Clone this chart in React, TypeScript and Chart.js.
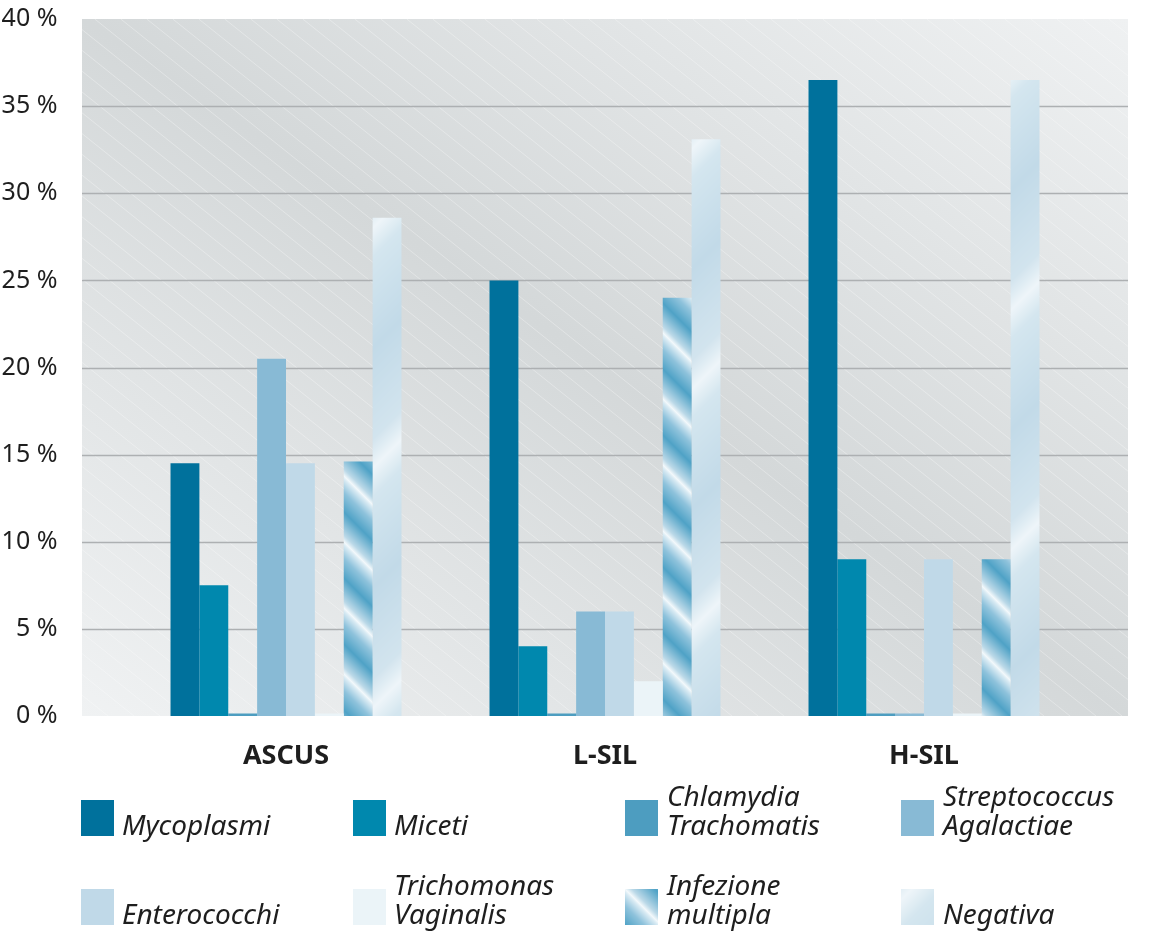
import React, { useEffect, useRef } from 'react';
import { Chart, registerables } from 'chart.js';
Chart.register(...registerables);

const categories = ['ASCUS', 'L-SIL', 'H-SIL'];
const mycoplasmi = [14.5, 25, 36.5];
const miceti = [7.5, 4, 9];
const chlamydia = [0.15, 0.15, 0.15];
const streptococcus = [20.5, 6, 0.15];
const enterococchi = [14.5, 6, 9];
const trichomonas = [0.15, 2, 0.15];
const infezione = [14.6, 24, 9];
const negativa = [28.6, 33.1, 36.5];
const seriesLabels = [
  'Mycoplasmi',
  'Miceti',
  'Chlamydia\nTrachomatis',
  'Streptococcus\nAgalactiae',
  'Enterococchi',
  'Trichomonas\nVaginalis',
  'Infezione\nmultipla',
  'Negativa',
];
const yMin = 0;
const yMax = 40;
const yStep = 5;

const FONT = '"Noto Sans", "DejaVu Sans", sans-serif';

function hex(c: string) {
  return [parseInt(c.slice(1, 3), 16), parseInt(c.slice(3, 5), 16), parseInt(c.slice(5, 7), 16)];
}
function profile(stops: [number, string][], t: number) {
  for (let i = 0; i < stops.length - 1; i++) {
    const [t0, c0] = stops[i];
    const [t1, c1] = stops[i + 1];
    if (t >= t0 && t <= t1) {
      const f = (t - t0) / (t1 - t0 || 1);
      const a = hex(c0), b = hex(c1);
      return [a[0] + (b[0] - a[0]) * f, a[1] + (b[1] - a[1]) * f, a[2] + (b[2] - a[2]) * f];
    }
  }
  return hex(stops[stops.length - 1][1]);
}
function makePattern(ctx: CanvasRenderingContext2D, size: number, fn: (x: number, y: number) => number[]) {
  const c = document.createElement('canvas');
  c.width = size;
  c.height = size;
  const cx = c.getContext('2d')!;
  const img = cx.createImageData(size, size);
  for (let y = 0; y < size; y++) {
    for (let x = 0; x < size; x++) {
      const [r, g, b] = fn(x, y);
      const i = (y * size + x) * 4;
      img.data[i] = r;
      img.data[i + 1] = g;
      img.data[i + 2] = b;
      img.data[i + 3] = 255;
    }
  }
  cx.putImageData(img, 0, 0);
  return ctx.createPattern(c, 'repeat')!;
}

const bgPlugin = {
  id: 'bgPlugin',
  beforeDraw(chart: any) {
    const { ctx, chartArea } = chart;
    const ext = 44.5;
    const L = chartArea.left - ext;
    const R = chartArea.right + ext;
    const T = chartArea.top;
    const B = chartArea.bottom;
    const W = R - L, H = B - T;
    const cxp = (L + R) / 2, cyp = (T + B) / 2;
    const len = Math.sqrt(W * W + H * H);
    const dx = H / len, dy = -W / len;
    const d = (W * H) / len;
    ctx.save();
    const g = ctx.createLinearGradient(cxp - dx * d, cyp - dy * d, cxp + dx * d, cyp + dy * d);
    g.addColorStop(0, '#f0f2f3');
    g.addColorStop(0.5, '#d4d8d9');
    g.addColorStop(1, '#eff1f2');
    ctx.fillStyle = g;
    ctx.fillRect(L, T, W, H);
    ctx.beginPath();
    ctx.rect(L, T, W, H);
    ctx.clip();
    ctx.strokeStyle = 'rgba(255,255,255,0.4)';
    ctx.lineWidth = 0.8;
    const slope = 0.8;
    for (let c = L - H / slope; c < R; c += 26) {
      ctx.beginPath();
      ctx.moveTo(c, T);
      ctx.lineTo(c + H / slope, B);
      ctx.stroke();
    }
    ctx.restore();
    const ys = chart.scales.y;
    ctx.save();
    ctx.strokeStyle = '#adb0b2';
    ctx.lineWidth = 1.6;
    ys.ticks.forEach((t: any) => {
      if (t.value <= yMin || t.value >= yMax) return;
      const y = Math.round(ys.getPixelForValue(t.value)) + 0.5;
      ctx.beginPath();
      ctx.moveTo(L, y);
      ctx.lineTo(R, y);
      ctx.stroke();
    });
    ctx.restore();
  },
};

const legendPlugin = {
  id: 'customLegend',
  afterDraw(chart: any) {
    const { ctx } = chart;
    const swX = [81, 353, 625, 901];
    const txX = [122, 394, 667, 943];
    const rowTop = [800, 889];
    const sw = 33, sh = 36, lh = 29;
    ctx.save();
    ctx.font = `italic 28px ${FONT}`;
    ctx.textAlign = 'left';
    ctx.textBaseline = 'alphabetic';
    chart.data.datasets.forEach((ds: any, i: number) => {
      const col = i % 4, row = Math.floor(i / 4);
      const x = swX[col], y = rowTop[row];
      ctx.fillStyle = ds.backgroundColor;
      ctx.fillRect(x, y, sw, sh);
      const lines = String(ds.label).split('\n');
      ctx.fillStyle = '#1e1e1e';
      const base = y + sh - 1;
      lines.forEach((ln, k) => {
        ctx.fillText(ln, txX[col], base - (lines.length - 1 - k) * lh);
      });
    });
    ctx.restore();
  },
};

export default function App() {
  const ref = useRef<HTMLCanvasElement>(null);
  useEffect(() => {
    const canvas = ref.current!;
    const ctx = canvas.getContext('2d')!;
    const infStops: [number, string][] = [
      [0, '#f2f8fb'], [0.1, '#bcd9e8'], [0.45, '#4fa2c6'], [0.75, '#8fc3dc'], [0.95, '#d8eaf3'], [1, '#f2f8fb'],
    ];
    const P1 = 66;
    const infPattern = makePattern(ctx, P1, (x, y) => profile(infStops, ((((x - y) % P1) + P1) % P1) / P1));
    const negStops: [number, string][] = [
      [0, '#c2dae8'], [0.38, '#d2e4ee'], [0.5, '#eef5f9'], [0.62, '#d4e6ef'], [1, '#c2dae8'],
    ];
    const P2 = 240;
    const negPattern = makePattern(ctx, P2, (x, y) => profile(negStops, ((x + y) % P2) / P2));

    const series = [mycoplasmi, miceti, chlamydia, streptococcus, enterococchi, trichomonas, infezione, negativa];
    const colors: any[] = ['#00719c', '#0088ae', '#4d9dc0', '#88bad5', '#c0d9e8', '#ebf4f8', infPattern, negPattern];

    const chart = new Chart(canvas, {
      type: 'bar',
      data: {
        labels: categories,
        datasets: series.map((d, i) => ({
          label: seriesLabels[i],
          data: d,
          backgroundColor: colors[i],
          borderWidth: 0,
          categoryPercentage: 0.724,
          barPercentage: 1,
        })),
      },
      options: {
        animation: false,
        responsive: false,
        layout: { padding: { left: 0, right: 82.5, top: 19, bottom: 0 } },
        plugins: { legend: { display: false }, tooltip: { enabled: false } },
        scales: {
          x: {
            type: 'category',
            offset: true,
            grid: { display: false },
            border: { display: false },
            ticks: { font: { family: FONT, size: 27, weight: 'bold' }, color: '#1e1e1e', padding: 16 },
            afterFit: (s: any) => { s.height = 216; },
          },
          y: {
            min: yMin,
            max: yMax,
            grid: { display: false },
            border: { display: false },
            ticks: {
              stepSize: yStep,
              callback: (v: any) => `${v} %`,
              font: { family: FONT, size: 25 },
              color: '#1e1e1e',
              padding: 61,
            },
            afterFit: (s: any) => {
              s.width = 126.5;
              s.paddingTop = 0;
              s.paddingBottom = 0;
            },
          },
        },
      } as any,
      plugins: [bgPlugin, legendPlugin],
    });
    return () => chart.destroy();
  }, []);
  return (
    <div style={{ position: 'absolute', left: 0, top: 0, width: 1166, height: 932, background: '#fff' }}>
      <canvas ref={ref} width={1166} height={932} style={{ display: 'block' }} />
    </div>
  );
}
